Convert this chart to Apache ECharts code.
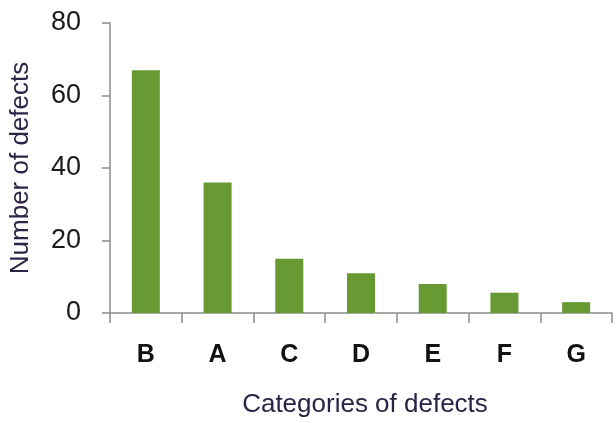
<!DOCTYPE html>
<html>
<head>
<meta charset="utf-8">
<script src="https://cdn.jsdelivr.net/npm/echarts@6/dist/echarts.min.js"></script>
<style>html,body{margin:0;padding:0;background:#fff}#c{width:616px;height:423px}</style>
</head>
<body>
<div id="c"></div>
<script>
var categories = ['B', 'A', 'C', 'D', 'E', 'F', 'G'];
var defects = [67, 36, 15, 11, 8, 5.6, 3];
var yTicks = [0, 20, 40, 60, 80];

var chart = echarts.init(document.getElementById('c'), null, {renderer: 'canvas'});
chart.setOption({
  animation: false,
  backgroundColor: '#fff',
  grid: {left: 110, right: 4, top: 23, bottom: 110, containLabel: false, outerBoundsMode: 'none'},
  xAxis: {
    type: 'category',
    data: categories,
    name: 'Categories of defects',
    nameLocation: 'middle',
    nameGap: 79,
    nameTextStyle: {fontFamily: 'Liberation Sans', fontSize: 26, color: '#262545', padding: [0, 0, 0, 8]},
    axisLine: {show: true, lineStyle: {color: '#8c8c8c', width: 1.5}},
    axisTick: {show: true, length: 10, lineStyle: {color: '#8c8c8c', width: 1.5}},
    axisLabel: {fontFamily: 'Liberation Sans', fontWeight: 'bold', fontSize: 25, color: '#111', margin: 30}
  },
  yAxis: {
    type: 'value',
    min: yTicks[0],
    max: yTicks[yTicks.length - 1],
    interval: 20,
    name: 'Number of defects',
    nameLocation: 'middle',
    nameRotate: 90,
    nameGap: 76,
    nameTextStyle: {fontFamily: 'Liberation Sans', fontSize: 26, color: '#2e2448'},
    axisLine: {show: true, lineStyle: {color: '#8c8c8c', width: 1.5}},
    axisTick: {show: true, length: 8, lineStyle: {color: '#8c8c8c', width: 1.5}},
    splitLine: {show: false},
    axisLabel: {fontFamily: 'Liberation Sans', fontSize: 27, color: '#1a1a1a', margin: 29}
  },
  series: [{
    type: 'bar',
    data: defects,
    barWidth: 28,
    itemStyle: {color: '#679a33'}
  }]
});
</script>
</body>
</html>
